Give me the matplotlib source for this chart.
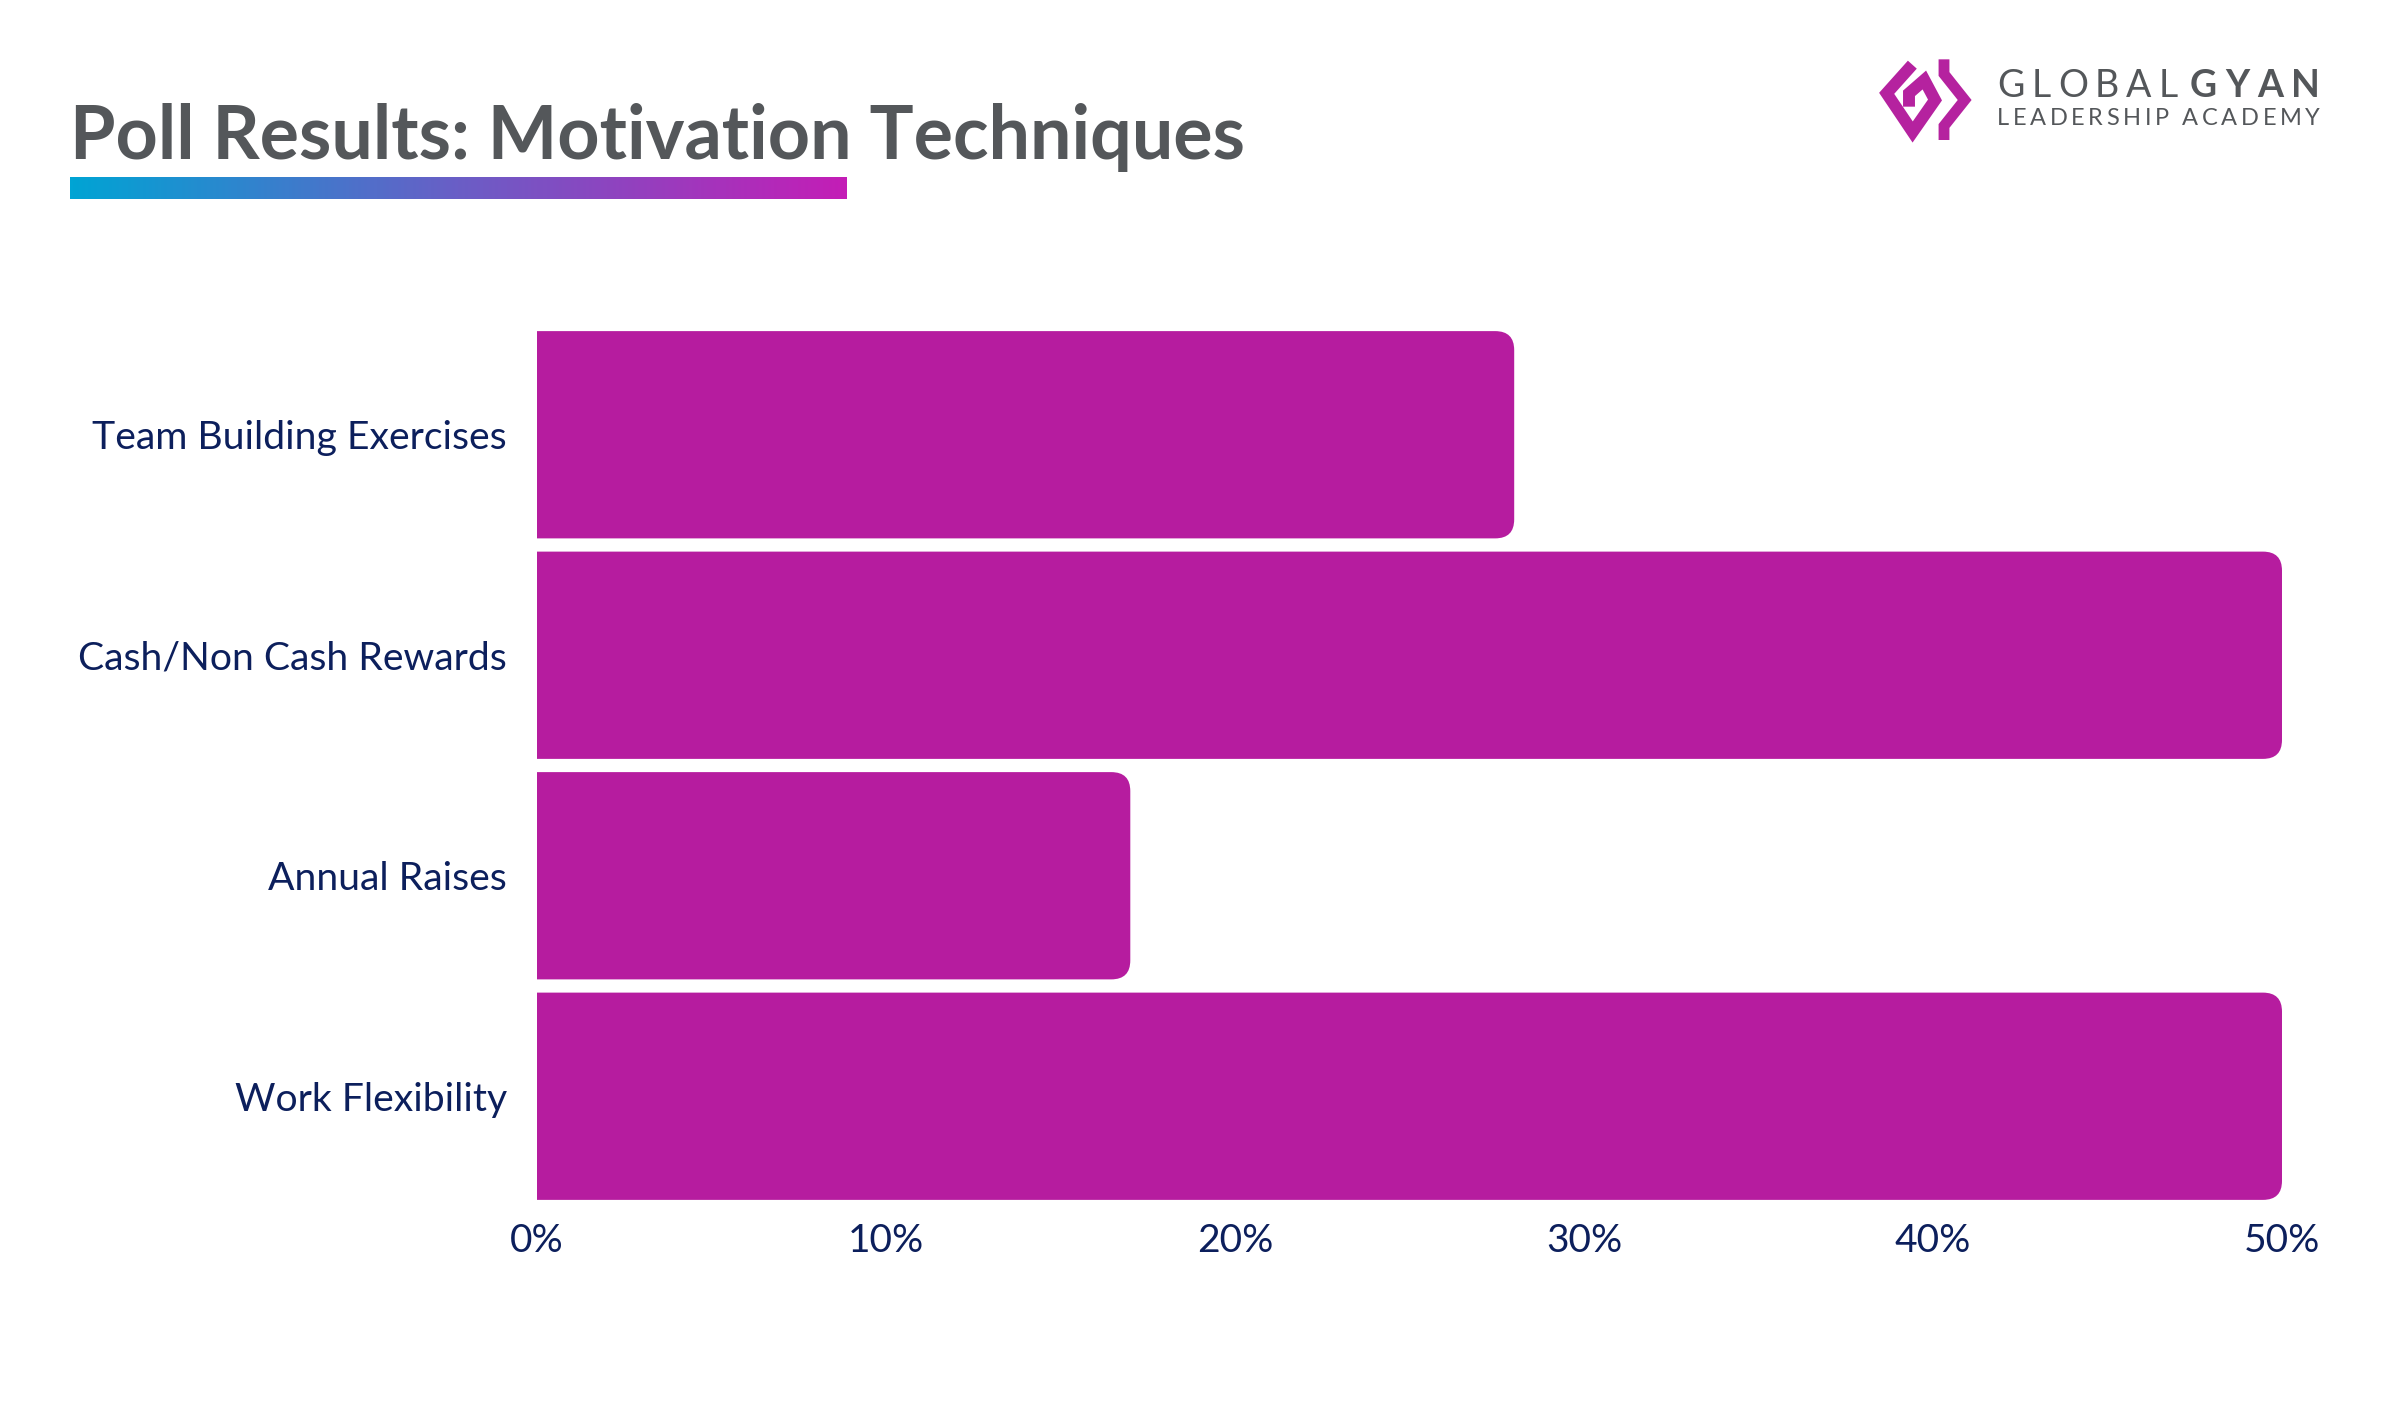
#Poll Results: Motivation Techniques
#Grafica de barras horizontales con logo y titulo

#----------Librerias----------#
import matplotlib.pyplot as plt
import numpy as np
from matplotlib.patches import FancyBboxPatch
from matplotlib.colors import LinearSegmentedColormap

#----------Datos----------#
categories = ['Team Building Exercises', 'Cash/Non Cash Rewards', 'Annual Raises', 'Work Flexibility']
values = [28, 50, 17, 50]
ticks = [0, 10, 20, 30, 40, 50]
tick_labels = ['0%', '10%', '20%', '30%', '40%', '50%']

BAR = '#b61c9f'
NAVY = '#0c1f5c'
GRAY = '#54575a'
FONT = 'Lato'

W, H, DPI = 2400, 1404, 200
fig = plt.figure(figsize=(W / DPI, H / DPI), dpi=DPI)
fig.patch.set_facecolor('white')

# ejes principales (posiciones en pixeles de la figura)
ax_l, ax_r, ax_t, ax_b = 537, 2282, 324.5, 1206.5
ax = fig.add_axes([ax_l / W, 1 - ax_b / H, (ax_r - ax_l) / W, (ax_b - ax_t) / H])

y = np.arange(len(categories))
bars = ax.barh(y, values, height=0.94, color=BAR)
ax.set_xlim(0, 50)
ax.set_ylim(len(categories) - 0.5, -0.5)

# reemplaza cada barra por una con la punta redondeada
radius = 19
rx = radius * 50 / (ax_r - ax_l)
ry = radius * len(categories) / (ax_b - ax_t)
for b in bars:
    x0, y0, w, h = b.get_x(), b.get_y(), b.get_width(), b.get_height()
    b.set_visible(False)
    ax.add_patch(FancyBboxPatch((x0 - rx, y0), w + rx, h,
                                boxstyle=f'round,pad=0,rounding_size={rx}',
                                mutation_aspect=ry / rx, fc=BAR, ec='none'))

ax.set_yticks(y, categories)
ax.set_xticks(ticks, tick_labels)
ax.tick_params(axis='y', length=0, pad=10.8, labelsize=14.1, labelcolor=NAVY)
ax.tick_params(axis='x', length=0, pad=6, labelsize=14, labelcolor=NAVY)
for lab in ax.get_xticklabels() + ax.get_yticklabels():
    lab.set_family(FONT)
for s in ax.spines.values():
    s.set_visible(False)

# titulo
fig.text(70 / W, 1 - 159 / H, 'Poll Results: Motivation Techniques', fontsize=26.5,
         fontweight='bold', color=GRAY, family=FONT, va='baseline', ha='left')

# barra con degradado bajo el titulo
gax = fig.add_axes([70 / W, 1 - 199 / H, 777 / W, 22 / H])
cmap = LinearSegmentedColormap.from_list('grad', ['#00a4d4', '#6a5ec6', '#c41db6'])
gax.imshow(np.linspace(0, 1, 256)[None, :], aspect='auto', cmap=cmap)
gax.axis('off')

# logo
lax = fig.add_axes([1870 / W, 1 - 150 / H, 110 / W, 100 / H])
lax.set_xlim(0, 330)
lax.set_ylim(300, 0)
lax.axis('off')
LOGO = '#b5229f'
left_piece = [(127, 44), (50, 130), (128, 246), (195, 150), (163, 90), (117, 130), (117, 170)]
right_piece = [(222, 28), (222, 72), (284, 150), (222, 228), (222, 270)]
for piece, lw in [(left_piece, 4.3), (right_piece, 3.9)]:
    xs, ys = zip(*piece)
    lax.plot(xs, ys, color=LOGO, lw=lw, solid_joinstyle='miter', solid_capstyle='butt')

renderer = fig.canvas.get_renderer()

def spaced_text(x_start, x_end, y_base, s, size, weight):
    # dibuja letra por letra repartiendo el espacio sobrante
    texts = []
    widths = []
    for ch in s:
        t = fig.text(0, 1 - y_base / H, ch if ch != ' ' else '\u00a0', fontsize=size,
                     fontweight=weight, color=GRAY, family=FONT, va='baseline', ha='left')
        texts.append(t)
        widths.append(t.get_window_extent(renderer).width)
    track = (x_end - x_start - sum(widths)) / (len(s) - 1)
    x = x_start
    for t, w in zip(texts, widths):
        t.set_x(x / W)
        x += w + track

spaced_text(1997, 2178, 97, 'GLOBAL', 13.5, 'normal')
spaced_text(2190, 2320, 97, 'GYAN', 13.5, 'bold')
spaced_text(1997, 2320, 125, 'LEADERSHIP ACADEMY', 8.5, 'normal')

fig.savefig('out.png', dpi=DPI)
